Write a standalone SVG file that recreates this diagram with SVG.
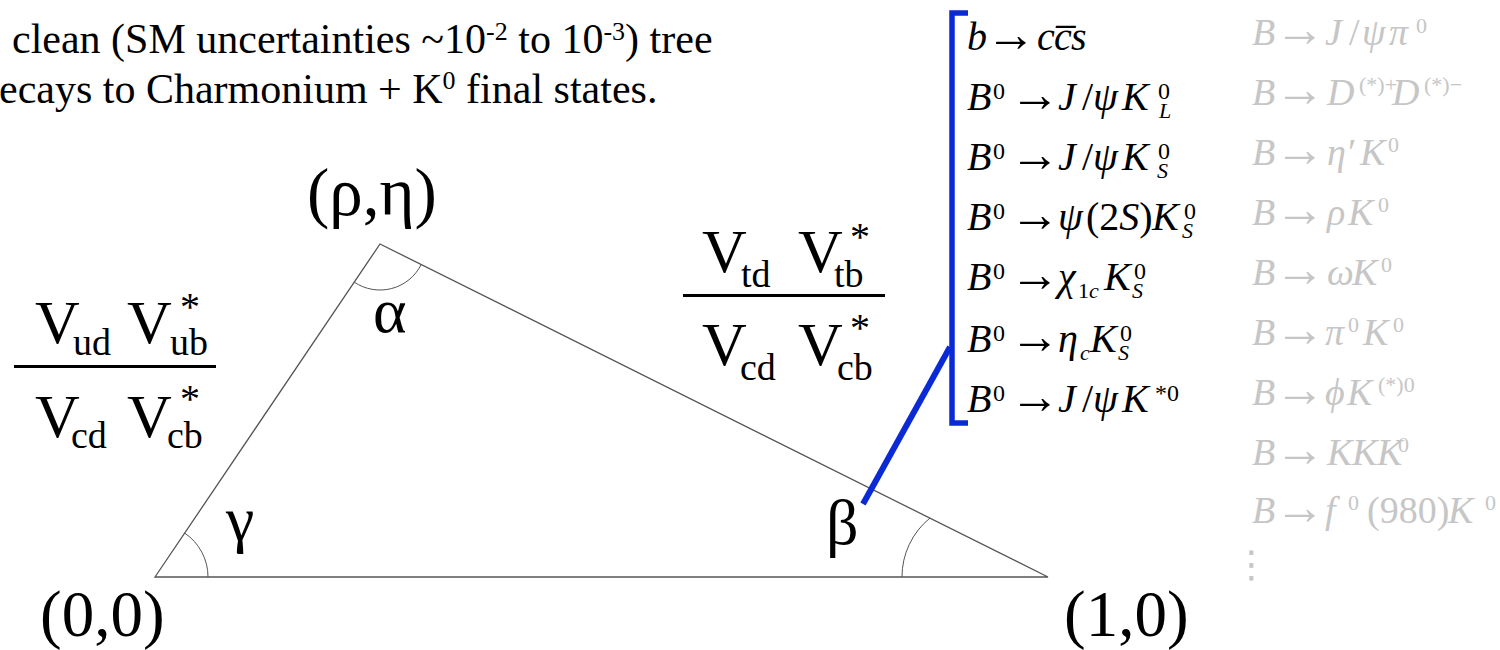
<svg xmlns="http://www.w3.org/2000/svg" width="1500" height="650" viewBox="0 0 1500 650" font-family="Liberation Serif, serif">
<style>
text, tspan { font-family: "Liberation Serif", serif; }
.m { font-size: 40px; font-style: italic; }
.g { font-size: 38px; font-style: italic; fill: #c6c6c6; }
.gr { fill: #c6c6c6; font-family: "DejaVu Sans", sans-serif; }
.up { font-style: normal; }
.ar { font-style: normal; font-size: 50px; }
.ag { font-style: normal; font-size: 50px; fill: #c6c6c6; }
.sp { font-size: 24px; font-style: normal; }
.sb { font-size: 22px; font-style: italic; }
.gs { font-size: 22px; font-style: normal; }
.big { font-size: 62px; }
.sub { font-size: 38px; }
.st { font-size: 40px; }
.lbl { font-size: 64px; }
.edge { fill: none; stroke: #555; stroke-width: 1.3; }
.arc { fill: none; stroke: #555; stroke-width: 1; }
.blue { fill: none; stroke: #0a2ad6; }
</style>

<g id="heading">
<text x="12" y="53" font-size="42">clean (SM uncertainties ~10<tspan dy="-13" font-size="26">-2</tspan><tspan dy="13"> to 10</tspan><tspan dy="-13" font-size="26">-3</tspan><tspan dy="13">) tree</tspan></text>
<text x="-1" y="103" font-size="42">ecays to Charmonium + K<tspan dy="-14" font-size="26">0</tspan><tspan dy="14"> final states.</tspan></text>
</g>

<g id="triangle">
<polygon class="edge" points="155,577 380,244 1048,577"/>
<path class="arc" d="M 208 577 A 53 53 0 0 0 184.7 533.1"/>
<path class="arc" d="M 354.2 282.1 A 46 46 0 0 0 421.2 264.5"/>
<path class="arc" d="M 902 577 A 76 76 0 0 1 930 518"/>
</g>

<g id="vertex-labels">
<text x="307" y="215" font-size="67">(ρ,η)</text>
<text x="40" y="636" font-size="65">(0,0)</text>
<text x="1064" y="636" font-size="65">(1,0)</text>
<text class="lbl" x="373" y="332">α</text>
<text class="lbl" x="226" y="540">γ</text>
<text class="lbl" x="826" y="544">β</text>
</g>

<g id="ratio-left">
<text class="big" x="35" y="343">V</text><text class="sub" x="73" y="355">ud</text>
<text class="big" x="127" y="343">V</text><text class="sub" x="170" y="355">ub</text><text class="st" x="180" y="320">*</text>
<rect x="14" y="365" width="202" height="3" fill="#000"/>
<text class="big" x="35" y="437">V</text><text class="sub" x="71" y="448">cd</text>
<text class="big" x="127" y="437">V</text><text class="sub" x="167" y="448">cb</text><text class="st" x="180" y="412">*</text>
</g>

<g id="ratio-right">
<text class="big" x="702" y="272">V</text><text class="sub" x="741" y="287">td</text>
<text class="big" x="798" y="272">V</text><text class="sub" x="834" y="287">tb</text><text class="st" x="850" y="250">*</text>
<rect x="683" y="294" width="202" height="3" fill="#000"/>
<text class="big" x="702" y="365">V</text><text class="sub" x="740" y="380">cd</text>
<text class="big" x="798" y="365">V</text><text class="sub" x="837" y="380">cb</text><text class="st" x="850" y="341">*</text>
</g>

<g id="connectors">
<path class="blue" stroke-width="5.5" d="M 968 13 H 952 V 423 H 968"/>
<line class="blue" stroke-width="6" x1="863" y1="504" x2="950" y2="347"/>
</g>

<g id="ccs-modes">
<text class="m" y="50"><tspan x="967">b</tspan><tspan x="1037">c</tspan><tspan x="1054">c̅</tspan><tspan x="1071">s</tspan></text>
<text class="ar" x="986" y="51">→</text>

<text class="m" y="110"><tspan x="967">B</tspan><tspan class="sp" x="993" y="99">0</tspan><tspan x="1058" y="110">J</tspan><tspan class="up" x="1082">/</tspan><tspan x="1093">ψ</tspan><tspan x="1122">K</tspan><tspan class="sp" x="1158" y="99">0</tspan><tspan class="sb" x="1159" y="118">L</tspan></text>
<text class="ar" x="1010" y="111">→</text>

<text class="m" y="170"><tspan x="967">B</tspan><tspan class="sp" x="993" y="159">0</tspan><tspan x="1058" y="170">J</tspan><tspan class="up" x="1082">/</tspan><tspan x="1093">ψ</tspan><tspan x="1122">K</tspan><tspan class="sp" x="1158" y="159">0</tspan><tspan class="sb" x="1157" y="178">S</tspan></text>
<text class="ar" x="1010" y="171">→</text>

<text class="m" y="230"><tspan x="967">B</tspan><tspan class="sp" x="993" y="219">0</tspan><tspan x="1058" y="230">ψ</tspan><tspan class="up" x="1086">(2</tspan><tspan>S</tspan><tspan class="up">)</tspan><tspan x="1152">K</tspan><tspan class="sp" x="1184" y="219">0</tspan><tspan class="sb" x="1182" y="238">S</tspan></text>
<text class="ar" x="1010" y="231">→</text>

<text class="m" y="290"><tspan x="967">B</tspan><tspan class="sp" x="993" y="279">0</tspan><tspan x="1058" y="290">χ</tspan><tspan class="sb" x="1078" y="298"><tspan class="up">1</tspan>c</tspan><tspan x="1104" y="290">K</tspan><tspan class="sp" x="1134" y="279">0</tspan><tspan class="sb" x="1132" y="298">S</tspan></text>
<text class="ar" x="1010" y="291">→</text>

<text class="m" y="352"><tspan x="967">B</tspan><tspan class="sp" x="993" y="341">0</tspan><tspan x="1058" y="352">η</tspan><tspan class="sb" x="1080" y="360">c</tspan><tspan x="1090" y="352">K</tspan><tspan class="sp" x="1120" y="341">0</tspan><tspan class="sb" x="1118" y="360">S</tspan></text>
<text class="ar" x="1010" y="353">→</text>

<text class="m" y="412"><tspan x="967">B</tspan><tspan class="sp" x="993" y="401">0</tspan><tspan x="1058" y="412">J</tspan><tspan class="up" x="1082">/</tspan><tspan x="1093">ψ</tspan><tspan x="1122">K</tspan><tspan class="sp" x="1155" y="401">*0</tspan></text>
<text class="ar" x="1010" y="413">→</text>
</g>

<g id="other-modes">
<text class="g" y="45"><tspan x="1252">B</tspan><tspan x="1325">J</tspan><tspan class="up" x="1349">/</tspan><tspan x="1362">ψ</tspan><tspan x="1389">π</tspan><tspan class="gs" x="1416" y="33">0</tspan></text>
<text class="ag" x="1275" y="46">→</text>
<text class="g" y="105"><tspan x="1252">B</tspan><tspan x="1327">D</tspan><tspan class="gs" x="1359" y="92">(*)+</tspan><tspan x="1392" y="105">D</tspan><tspan class="gs" x="1424" y="92">(*)−</tspan></text>
<text class="ag" x="1275" y="106">→</text>
<text class="g" y="165"><tspan x="1252">B</tspan><tspan x="1327">η′</tspan><tspan x="1360">K</tspan><tspan class="gs" x="1388" y="152">0</tspan></text>
<text class="ag" x="1275" y="166">→</text>
<text class="g" y="225"><tspan x="1252">B</tspan><tspan x="1327">ρ</tspan><tspan x="1348">K</tspan><tspan class="gs" x="1378" y="212">0</tspan></text>
<text class="ag" x="1275" y="226">→</text>
<text class="g" y="285"><tspan x="1252">B</tspan><tspan x="1327">ω</tspan><tspan x="1352">K</tspan><tspan class="gs" x="1381" y="272">0</tspan></text>
<text class="ag" x="1275" y="286">→</text>
<text class="g" y="345"><tspan x="1252">B</tspan><tspan x="1325">π</tspan><tspan class="gs" x="1348" y="332">0</tspan><tspan x="1363" y="345">K</tspan><tspan class="gs" x="1393" y="332">0</tspan></text>
<text class="ag" x="1275" y="346">→</text>
<text class="g" y="405"><tspan x="1252">B</tspan><tspan x="1325">ϕ</tspan><tspan x="1347">K</tspan><tspan class="gs" x="1378" y="392">(*)0</tspan></text>
<text class="ag" x="1275" y="406">→</text>
<text class="g" y="465"><tspan x="1252">B</tspan><tspan x="1327">K</tspan><tspan x="1352">K</tspan><tspan x="1377">K</tspan><tspan class="gs" x="1398" y="452">0</tspan></text>
<text class="ag" x="1275" y="466">→</text>
<text class="g" y="523"><tspan x="1252">B</tspan><tspan x="1325">f</tspan><tspan class="gs" x="1348" y="510">0</tspan><tspan class="up" x="1367" y="523">(980)</tspan><tspan x="1448">K</tspan><tspan class="gs" x="1485" y="510">0</tspan></text>
<text class="ag" x="1275" y="524">→</text>
<text class="gr" x="1233" y="577" font-size="37">⋮</text>
</g>
</svg>
